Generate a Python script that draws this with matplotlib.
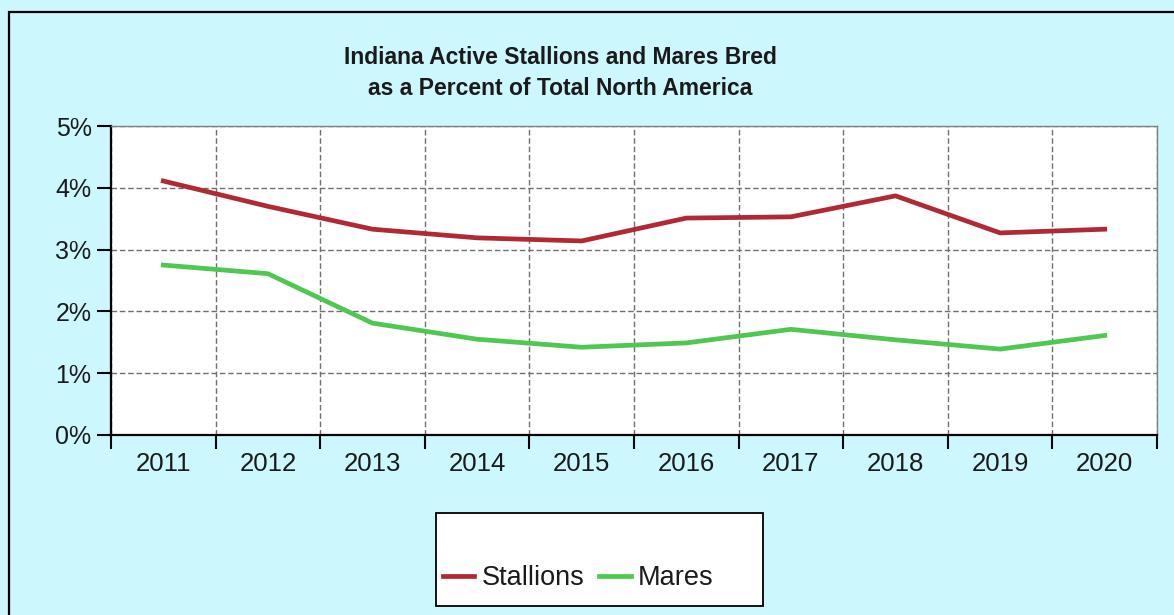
import matplotlib
matplotlib.use('Agg')
import matplotlib.pyplot as plt
from matplotlib.patches import Rectangle
from matplotlib.ticker import FixedLocator, FuncFormatter

years = ['2011', '2012', '2013', '2014', '2015', '2016', '2017', '2018', '2019', '2020']
stallions = [4.11, 3.70, 3.33, 3.19, 3.14, 3.51, 3.53, 3.87, 3.27, 3.33]
mares = [2.75, 2.61, 1.81, 1.55, 1.42, 1.49, 1.71, 1.54, 1.39, 1.61]

bg = '#ccf8fd'
W, H = 1174, 615

plt.rcParams['font.family'] = ['Liberation Sans', 'DejaVu Sans']

fig = plt.figure(figsize=(W / 100, H / 100), dpi=100, facecolor=bg)
ax = fig.add_axes([111 / W, 1 - 435 / H, (1157 - 111) / W, (435 - 126) / H])
ax.set_facecolor('white')

x = list(range(len(years)))
ax.plot(x, stallions, color='#b02a35', lw=3.4, label='Stallions', solid_joinstyle='round', zorder=3)
ax.plot(x, mares, color='#4ec850', lw=3.4, label='Mares', solid_joinstyle='round', zorder=3)

ax.set_xlim(-0.5, len(years) - 0.5)
ax.set_ylim(0, 5)

# category boundaries get the tick marks, labels sit at the centres
ax.xaxis.set_major_locator(FixedLocator([i - 0.5 for i in range(len(years) + 1)]))
ax.xaxis.set_minor_locator(FixedLocator(x))
ax.set_xticklabels([''] * (len(years) + 1))
ax.set_xticklabels(years, minor=True)
ax.tick_params(axis='x', which='major', length=10, width=1.5, color='black', direction='out')
ax.tick_params(axis='x', which='minor', length=0, pad=12, labelsize=18.5, labelcolor='#1a1a1a')

ax.set_yticks([0, 1, 2, 3, 4, 5])
ax.yaxis.set_major_formatter(FuncFormatter(lambda v, p: f'{v:.0f}%'))
ax.tick_params(axis='y', length=10, width=1.5, color='black', direction='out', pad=4,
               labelsize=18, labelcolor='#1a1a1a')

ax.grid(True, which='major', color='#707070', linestyle=(0, (4, 2)), linewidth=1.0)
ax.set_axisbelow(True)

for side in ['left', 'bottom']:
    ax.spines[side].set_linewidth(1.6)
    ax.spines[side].set_color('black')
for side in ['top', 'right']:
    ax.spines[side].set_linewidth(1.0)
    ax.spines[side].set_color('#808080')

fig.text(560 / W, 1 - 73 / H, 'Indiana Active Stallions and Mares Bred\nas a Percent of Total North America',
         ha='center', va='center', fontsize=16.5, fontweight='bold', color='#1a1a1a', linespacing=1.45)

# outer border (only left and top edges are in frame)
fig.add_artist(Rectangle((9 / W, -0.5), 2, (1 - 12 / H) + 0.5, transform=fig.transFigure,
                         fill=False, edgecolor='black', lw=1.6, zorder=0))

# legend box
fig.add_artist(Rectangle((436 / W, 1 - 606 / H), 327 / W, 93 / H, transform=fig.transFigure,
                         facecolor='white', edgecolor='black', lw=1.3, zorder=1))
leg = fig.legend(loc='center left', bbox_to_anchor=(443 / W, 1 - 578 / H), ncol=2, frameon=False,
                 fontsize=19.5, handlelength=1.15, handletextpad=0.28, columnspacing=0.55,
                 borderpad=0, borderaxespad=0)
leg.set_zorder(2)
for t in leg.get_texts():
    t.set_color('#1a1a1a')

fig.savefig('out.png', dpi=100, facecolor=bg)
